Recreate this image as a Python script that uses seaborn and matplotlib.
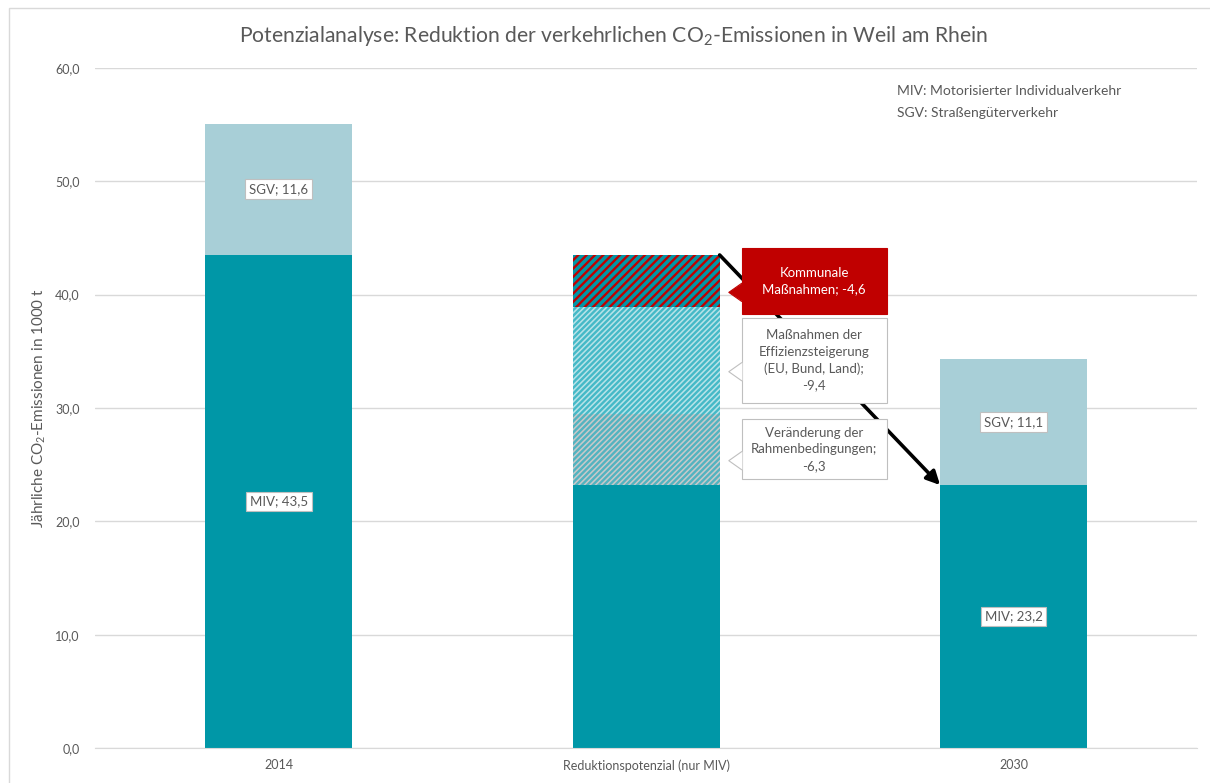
import seaborn as sns
import pandas as pd
import matplotlib.pyplot as plt
from matplotlib.patches import Rectangle, Polygon

# data
kategorien = ["2014", "Reduktionspotenzial (nur MIV)", "2030"]
miv = [43.5, 23.2, 23.2]
rahmen = [0, 6.3, 0]
effizienz = [0, 9.4, 0]
kommunal = [0, 4.6, 0]
sgv = [11.6, 0, 11.1]

grau = "#595959"
sns.set_style("white")
plt.rcParams["font.family"] = ["Lato", "DejaVu Sans"]
plt.rcParams["mathtext.fontset"] = "custom"
plt.rcParams["mathtext.rm"] = "Lato"
plt.rcParams["mathtext.it"] = "Lato"
plt.rcParams["hatch.linewidth"] = 1.7

fig = plt.figure(figsize=(12.1, 7.83), dpi=100)
ax = fig.add_axes([0.0785, 0.0447, 0.911, 0.8685])

# cumulative stacks, drawn from top to bottom so lower layers cover upper ones
cum = pd.DataFrame({"Kategorie": kategorien, "MIV": miv, "Rahmen": rahmen,
                    "Effizienz": effizienz, "Kommunal": kommunal, "SGV": sgv})
cum["c_rahmen"] = cum["MIV"] + cum["Rahmen"]
cum["c_eff"] = cum["c_rahmen"] + cum["Effizienz"]
cum["c_kom"] = cum["c_eff"] + cum["Kommunal"]
cum["c_sgv"] = cum["c_kom"] + cum["SGV"]

layers = [
    ("SGV", "c_sgv", "#A8CFD7", None, None),
    ("Kommunal", "c_kom", "#0097A7", "////", "#C00000"),
    ("Effizienz", "c_eff", "#B8E3E8", "//////", "#45B9C7"),
    ("Rahmen", "c_rahmen", "#C9C9C9", "//////", "#52B3C0"),
    ("MIV", "MIV", "#0097A7", None, None),
]
for seg, col, face, hatch, hcol in layers:
    sub = cum[cum[seg] > 0]
    n0 = len(ax.patches)
    sns.barplot(data=sub, x="Kategorie", y=col, order=kategorien, color=face,
                width=0.4, saturation=1, errorbar=None, ax=ax, zorder=2)
    for p in ax.patches[n0:]:
        p.set_linewidth(0)
        if hatch:
            p.set_hatch(hatch)
            p.set_edgecolor(hcol)

ax.set_xlim(-0.5, 2.5)
ax.set_ylim(0, 60)
ax.set_yticks(range(0, 61, 10))
ax.set_yticklabels([f"{v:.1f}".replace(".", ",") for v in range(0, 61, 10)])
ax.grid(axis="y", color="#D9D9D9", lw=1, zorder=0)
ax.set_axisbelow(True)
sns.despine(ax=ax, left=True)
ax.spines["bottom"].set_color("#D9D9D9")
ax.tick_params(axis="both", length=0, labelsize=9, colors=grau)
ax.tick_params(axis="y", pad=11)
ax.tick_params(axis="x", pad=8)
ax.set_xlabel("")
ax.set_ylabel("Jährliche CO$_2$-Emissionen in 1000 t", fontsize=11, color=grau, labelpad=5)


def fmt(v):
    return f"{v:.1f}".replace(".", ",")


box = dict(boxstyle="square,pad=0.3", fc="white", ec="#BFBFBF", lw=0.8)
for i in range(3):
    if sgv[i] > 0:
        ax.text(i, miv[i] / 2, f"MIV; {fmt(miv[i])}", ha="center", va="center",
                fontsize=9.5, color=grau, bbox=box, zorder=5)
        ax.text(i, miv[i] + sgv[i] / 2, f"SGV; {fmt(sgv[i])}", ha="center", va="center",
                fontsize=9.5, color=grau, bbox=box, zorder=5)

# arrow from reduction bar to 2030 MIV
ax.annotate("", xy=(2 - 0.2, miv[2]), xytext=(1 + 0.2, cum["c_kom"][1]),
            arrowprops=dict(arrowstyle="-|>", color="black", lw=2.6,
                            mutation_scale=20, shrinkA=0, shrinkB=0), zorder=3)

# callout boxes for reduction segments
callouts = [
    ("Kommunale\nMaßnahmen; " + fmt(-kommunal[1]), cum["c_eff"][1] + kommunal[1] / 2, 5.8, "#C00000", "white", "#C00000"),
    ("Maßnahmen der\nEffizienzsteigerung\n(EU, Bund, Land);\n" + fmt(-effizienz[1]),
     cum["c_rahmen"][1] + effizienz[1] / 2, 7.5, "white", grau, "#BFBFBF"),
    ("Veränderung der\nRahmenbedingungen;\n" + fmt(-rahmen[1]), miv[1] + rahmen[1] / 2, 5.3, "white", grau, "#BFBFBF"),
]
bx0, bw = 1.26, 0.395
for txt, yc, h, fc, tc, ec in callouts:
    ax.add_patch(Rectangle((bx0, yc - h / 2), bw, h, fc=fc, ec=ec, lw=0.8, zorder=6))
    ax.add_patch(Polygon([(bx0 + 0.002, yc - 0.2), (bx0 - 0.035, yc - 1.0), (bx0 + 0.002, yc - 1.8)],
                         closed=True, fc=fc, ec="none", zorder=6))
    ax.plot([bx0, bx0 - 0.035, bx0], [yc - 0.2, yc - 1.0, yc - 1.8], color=ec, lw=0.8, zorder=6)
    ax.text(bx0 + bw / 2, yc, txt, ha="center", va="center", fontsize=9.5, color=tc,
            linespacing=1.45, zorder=7)

fig.text(0.507, 0.954, "Potenzialanalyse: Reduktion der verkehrlichen CO$_2$-Emissionen in Weil am Rhein",
         ha="center", va="center", fontsize=15.2, color=grau)
fig.text(0.741, 0.884, "MIV: Motorisierter Individualverkehr", fontsize=10, color=grau, va="center")
fig.text(0.741, 0.856, "SGV: Straßengüterverkehr", fontsize=10, color=grau, va="center")

fig.patches.append(Rectangle((9 / 1210, -0.02), 1.1, 1 - 8 / 783 + 0.02, transform=fig.transFigure,
                             fill=False, ec="#D9D9D9", lw=1))

fig.savefig("out.png", dpi=100)
